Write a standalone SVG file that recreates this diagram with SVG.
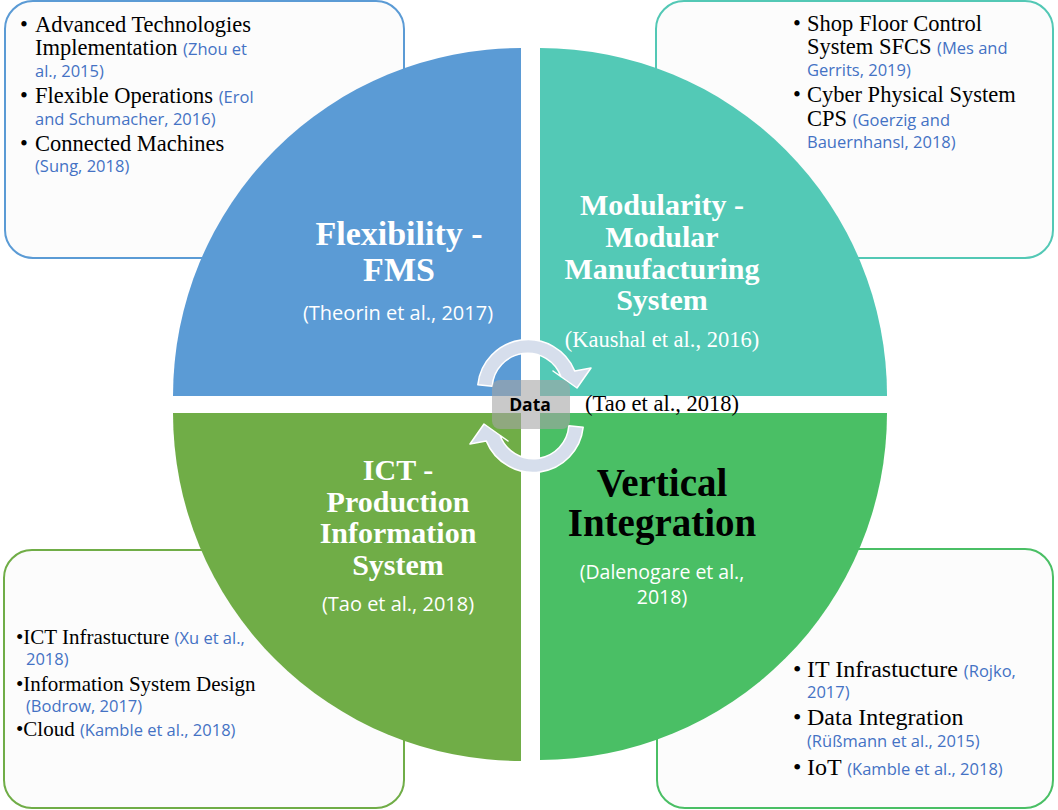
<svg xmlns="http://www.w3.org/2000/svg" width="1058" height="810" viewBox="0 0 1058 810">
<style>
.box{fill:#FCFCFC;stroke-width:2}
.tr{font-family:"Liberation Serif","Times New Roman",serif;fill:#000}
.cit{font-family:"Open Sans","Noto Sans",sans-serif;fill:#4472C4}
.qt{font-family:"Liberation Serif","Times New Roman",serif;font-weight:bold;fill:#fff;text-anchor:middle}
.qc{font-family:"Open Sans","Noto Sans",sans-serif;fill:#fff;text-anchor:middle;font-size:20px}
.arr{fill:#D6DEEC;stroke:#fff;stroke-width:1.5;stroke-linejoin:round}
</style>
<rect width="1058" height="810" fill="#fff"/>

<g id="box-flexibility">
<rect class="box" x="5" y="1" width="399" height="257" rx="28" stroke="#5B9BD5"/>
<g class="tr" font-size="22.5">
<text x="20" y="32">•</text><text x="35" y="32">Advanced Technologies</text>
<text x="35" y="55">Implementation <tspan class="cit" font-size="16.5">(Zhou et</tspan></text>
<text x="35" y="77" class="cit" font-size="16.5">al., 2015)</text>
<text x="20" y="103">•</text><text x="35" y="103">Flexible Operations <tspan class="cit" font-size="16.5">(Erol</tspan></text>
<text x="35" y="125" class="cit" font-size="16.5">and Schumacher, 2016)</text>
<text x="20" y="151">•</text><text x="35" y="151">Connected Machines</text>
<text x="35" y="172" class="cit" font-size="16.5">(Sung, 2018)</text>
</g>
</g>

<g id="box-modularity">
<rect class="box" x="656" y="1" width="397" height="257" rx="28" stroke="#53C8B5"/>
<g class="tr" font-size="22.5">
<text x="793" y="31">•</text><text x="807" y="31">Shop Floor Control</text>
<text x="807" y="54">System SFCS <tspan class="cit" font-size="16.5">(Mes and</tspan></text>
<text x="807" y="76" class="cit" font-size="16.5">Gerrits, 2019)</text>
<text x="793" y="102">•</text><text x="807" y="102">Cyber Physical System</text>
<text x="807" y="126">CPS <tspan class="cit" font-size="16.5">(Goerzig and</tspan></text>
<text x="807" y="148" class="cit" font-size="16.5">Bauernhansl, 2018)</text>
</g>
</g>

<g id="box-ict">
<rect class="box" x="4" y="550" width="400" height="258" rx="28" stroke="#70AD47"/>
<g class="tr" font-size="21">
<text x="16" y="644">•ICT Infrastucture <tspan class="cit" font-size="16.5">(Xu et al.,</tspan></text>
<text x="26" y="665" class="cit" font-size="16.5">2018)</text>
<text x="16" y="691">•Information System Design</text>
<text x="26" y="712" class="cit" font-size="16.5">(Bodrow, 2017)</text>
<text x="16" y="736">•Cloud <tspan class="cit" font-size="16.5">(Kamble et al., 2018)</tspan></text>
</g>
</g>

<g id="box-vertical">
<rect class="box" x="657" y="549" width="396" height="259" rx="28" stroke="#4ABF65"/>
<g class="tr" font-size="24">
<text x="793" y="677">•</text><text x="807" y="677">IT Infrastucture <tspan class="cit" font-size="16.5">(Rojko,</tspan></text>
<text x="807" y="698" class="cit" font-size="16.5">2017)</text>
<text x="793" y="725">•</text><text x="807" y="725">Data Integration</text>
<text x="807" y="747" class="cit" font-size="16.5">(Rüßmann et al., 2015)</text>
<text x="793" y="775">•</text><text x="807" y="775">IoT <tspan class="cit" font-size="16.5">(Kamble et al., 2018)</tspan></text>
</g>
</g>

<g id="q-flexibility">
<path d="M521,396 L173,396 A348,348 0 0 1 521,48 Z" fill="#5B9BD5"/>
<text class="qt" x="399" y="245" font-size="34">Flexibility -</text>
<text class="qt" x="399" y="281" font-size="34">FMS</text>
<text class="qc" x="398" y="320">(Theorin et al., 2017)</text>
</g>

<g id="q-modularity">
<path d="M540,396 L540,48 A347,347 0 0 1 887,396 Z" fill="#53C9B6"/>
<text class="qt" x="662" y="215" font-size="30">Modularity -</text>
<text class="qt" x="662" y="247" font-size="30">Modular</text>
<text class="qt" x="662" y="279" font-size="30">Manufacturing</text>
<text class="qt" x="662" y="310" font-size="30">System</text>
<text class="tr" x="662" y="347" font-size="22.5" style="fill:#fff" text-anchor="middle">(Kaushal et al., 2016)</text>
</g>

<g id="q-ict">
<path d="M521,413 L521,761 A348,348 0 0 1 173,413 Z" fill="#70AD47"/>
<text class="qt" x="398" y="480" font-size="30">ICT -</text>
<text class="qt" x="398" y="512" font-size="30">Production</text>
<text class="qt" x="398" y="543" font-size="30">Information</text>
<text class="qt" x="398" y="575" font-size="30">System</text>
<text class="qc" x="398" y="611">(Tao et al., 2018)</text>
</g>

<g id="q-vertical">
<path d="M540,413 L887,413 A347,347 0 0 1 540,760 Z" fill="#4ABF65"/>
<text class="qt" x="662" y="496" font-size="39" style="fill:#000">Vertical</text>
<text class="qt" x="662" y="536" font-size="39" style="fill:#000">Integration</text>
<text class="qc" x="662" y="579" style="font-size:19.5px">(Dalenogare et al.,</text>
<text class="qc" x="662" y="604" style="font-size:19.5px">2018)</text>
</g>

<g id="connectors">
<path id="arrow-top" class="arr" d="M492.2,386.2 L477.8,384.8 A50.5,50.5 0 0 1 574.8,371.1 L591,368 L577,388 L553,371 L561,376.7 A35.5,35.5 0 0 0 492.2,386.2 Z"/>
<path id="arrow-bottom" class="arr" transform="rotate(180 530.5 406)" d="M492.2,386.2 L477.8,384.8 A50.5,50.5 0 0 1 574.8,371.1 L591,368 L577,388 L553,371 L561,376.7 A35.5,35.5 0 0 0 492.2,386.2 Z"/>
</g>

<g id="data">
<rect x="492" y="380" width="78" height="49" rx="8" fill="#A5A5A5" fill-opacity="0.6"/>
<text x="530" y="411" font-family="'Open Sans','Noto Sans',sans-serif" font-weight="bold" font-size="17.5" text-anchor="middle" fill="#000">Data</text>
</g>

<g id="label-tao">
<text class="tr" x="585" y="411" font-size="22.5">(Tao et al., 2018)</text>
</g>
</svg>
